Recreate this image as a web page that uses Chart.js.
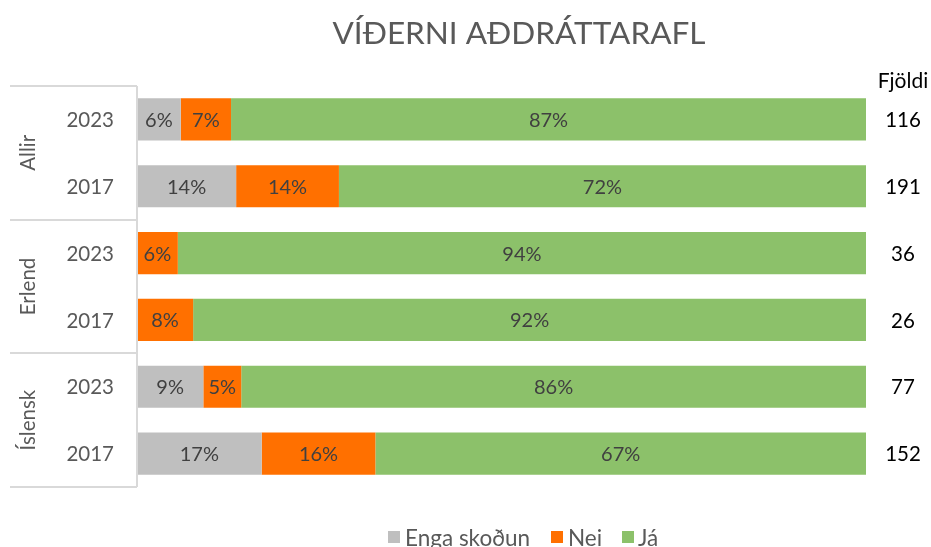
<!DOCTYPE html>
<html>
<head>
<meta charset="utf-8">
<script src="https://cdn.jsdelivr.net/npm/chart.js@4"></script>
<style>
html,body{margin:0;padding:0;background:#fff;}
#wrap{width:931px;height:547px;position:relative;}
</style>
</head>
<body>
<div id="wrap"><canvas id="c" width="931" height="547"></canvas></div>
<script>
const titleText = 'VÍÐERNI AÐDRÁTTARAFL';
const groups = ['Allir', 'Erlend', 'Íslensk'];
const years = ['2023', '2017', '2023', '2017', '2023', '2017'];
const categories = ['Allir 2023', 'Allir 2017', 'Erlend 2023', 'Erlend 2017', 'Íslensk 2023', 'Íslensk 2017'];
const engaSkodun = [6.0, 13.6, 0, 0, 9.1, 17.1];
const nei = [6.9, 14.1, 5.6, 7.7, 5.2, 15.6];
const ja = [87.1, 72.3, 94.4, 92.3, 85.7, 67.3];
const fjoldi = [116, 191, 36, 26, 77, 152];
const seriesNames = ['Enga skoðun', 'Nei', 'Já'];
const seriesColors = ['#bfbfbf', '#ff7000', '#8cc16a'];

const FONT = 'Lato, "Liberation Sans", sans-serif';

const custom = {
  id: 'custom',
  afterDatasetsDraw(chart) {
    const ctx = chart.ctx;
    const ys = chart.scales.y;
    const area = chart.chartArea;
    ctx.save();
    // data labels
    ctx.font = '20px ' + FONT;
    ctx.fillStyle = '#404040';
    ctx.textAlign = 'center';
    ctx.textBaseline = 'middle';
    chart.data.datasets.forEach((ds, di) => {
      const meta = chart.getDatasetMeta(di);
      meta.data.forEach((el, i) => {
        const v = ds.data[i];
        if (!v) return;
        ctx.fillText(Math.round(v) + '%', (el.x + el.base) / 2, el.y + 1);
      });
    });
    // title
    ctx.font = '31.5px ' + FONT;
    ctx.fillStyle = '#595959';
    ctx.fillText(titleText, 519, 34);
    // left frame
    ctx.strokeStyle = '#d9d9d9';
    ctx.lineWidth = 2;
    ctx.beginPath();
    ctx.moveTo(area.left, area.top);
    ctx.lineTo(area.left, area.bottom);
    const step = (ys.getPixelForValue(1) - ys.getPixelForValue(0));
    for (let g = 0; g <= groups.length; g++) {
      const y = Math.round(ys.getPixelForValue(g * 2) - step / 2);
      ctx.moveTo(10, y);
      ctx.lineTo(area.left, y);
    }
    ctx.stroke();
    // years
    ctx.font = '20.5px ' + FONT;
    ctx.fillStyle = '#595959';
    ctx.textAlign = 'right';
    years.forEach((yr, i) => {
      ctx.fillText(yr, 114, ys.getPixelForValue(i) + 1);
    });
    // groups rotated
    groups.forEach((g, gi) => {
      const yc = (ys.getPixelForValue(gi * 2) + ys.getPixelForValue(gi * 2 + 1)) / 2;
      ctx.save();
      ctx.translate(28, yc);
      ctx.rotate(-Math.PI / 2);
      ctx.textAlign = 'center';
      ctx.fillText(g, 0, 0);
      ctx.restore();
    });
    // Fjöldi
    ctx.fillStyle = '#000000';
    ctx.textAlign = 'center';
    ctx.font = '21px ' + FONT;
    ctx.fillText('Fjöldi', 903, 81);
    ctx.font = '20.5px ' + FONT;
    fjoldi.forEach((n, i) => {
      ctx.fillText(String(n), 903, ys.getPixelForValue(i) + 1);
    });
    // legend
    const legendItems = [[388, 405], [551, 568], [622, 638]];
    ctx.textAlign = 'left';
    ctx.font = '22.5px ' + FONT;
    seriesNames.forEach((nm, i) => {
      ctx.fillStyle = seriesColors[i];
      ctx.fillRect(legendItems[i][0], 531, 12, 12);
      ctx.fillStyle = '#595959';
      ctx.fillText(nm, legendItems[i][1], 539);
    });
    ctx.restore();
  }
};

new Chart(document.getElementById('c'), {
  type: 'bar',
  data: {
    labels: categories,
    datasets: seriesNames.map((nm, i) => ({
      label: nm,
      data: [engaSkodun, nei, ja][i],
      backgroundColor: seriesColors[i],
      borderWidth: 0,
      barPercentage: 0.63,
      categoryPercentage: 1.0
    }))
  },
  options: {
    indexAxis: 'y',
    responsive: false,
    animation: false,
    events: [],
    layout: { padding: { left: 137, right: 65, top: 86, bottom: 60 } },
    scales: {
      x: { stacked: true, min: 0, max: 100, display: false },
      y: { stacked: true, display: false }
    },
    plugins: {
      legend: { display: false },
      title: { display: false },
      tooltip: { enabled: false }
    }
  },
  plugins: [custom]
});
</script>
</body>
</html>
